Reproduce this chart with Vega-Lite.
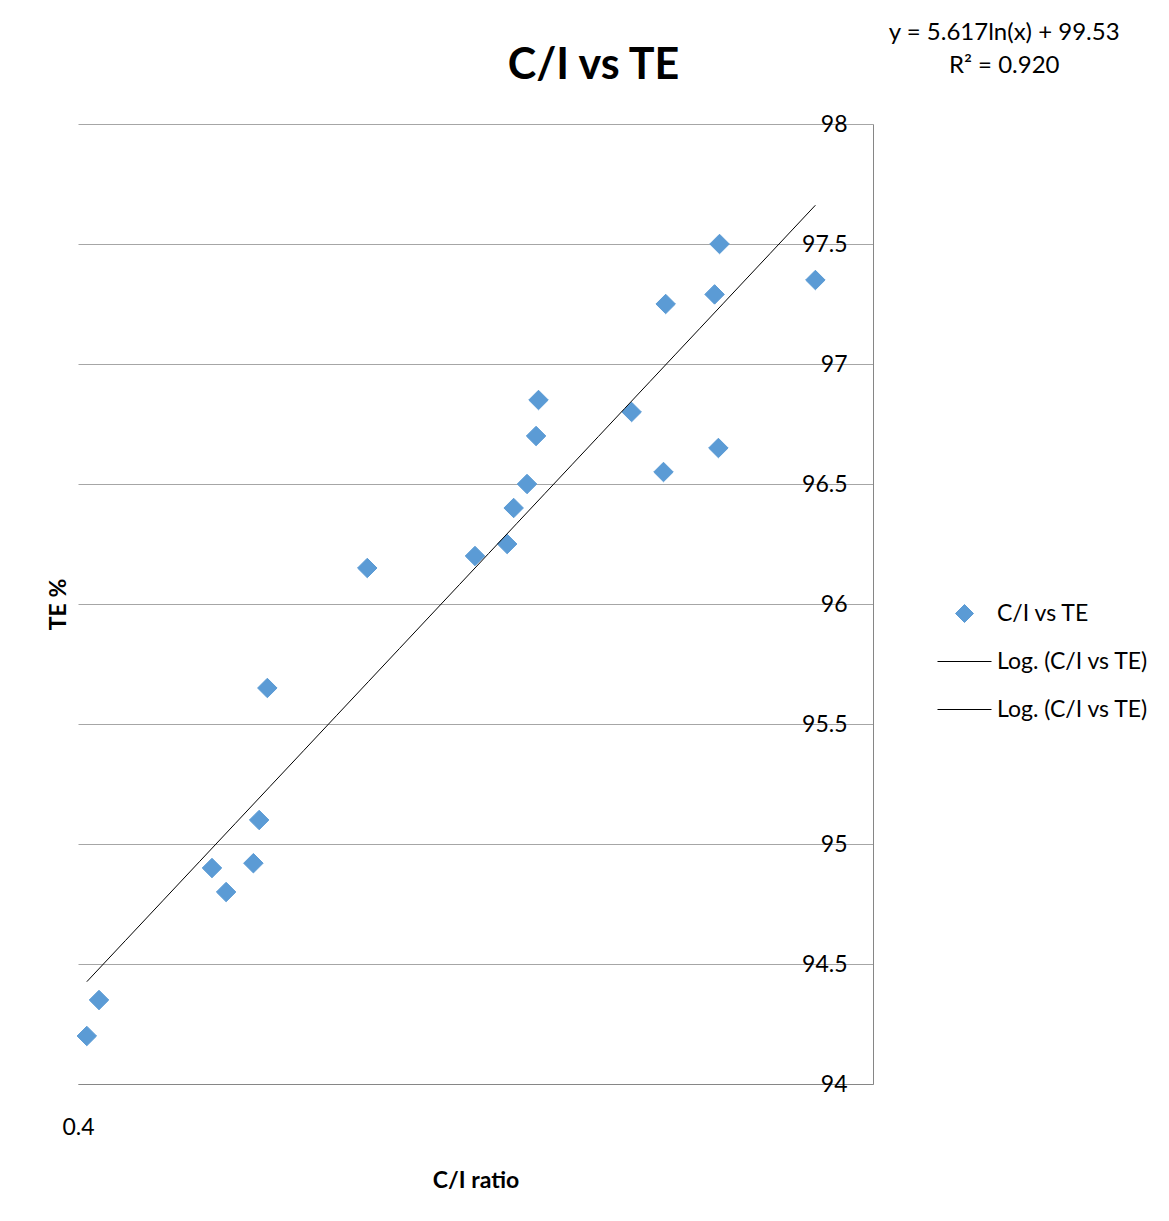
{
  "$schema": "https://vega.github.io/schema/vega-lite/v6.json",
  "width": 795,
  "height": 960,
  "autosize": {"type": "none"},
  "padding": {"left": 78, "top": 124, "right": 296, "bottom": 137},
  "background": "white",
  "config": {
    "font": "Lato",
    "view": {"stroke": null},
    "legend": {
      "orient": "none",
      "legendX": 875,
      "legendY": 478,
      "padding": 0,
      "labelFont": "Lato",
      "labelFontSize": 23,
      "labelColor": "black",
      "labelOffset": 21,
      "symbolSize": 324,
      "symbolStrokeWidth": 1,
      "rowPadding": 24,
      "labelLimit": 400
    }
  },
  "title": {
    "text": "C/I vs TE",
    "font": "Lato",
    "fontSize": 43,
    "fontWeight": "bold",
    "color": "black",
    "anchor": "middle",
    "frame": "group",
    "baseline": "alphabetic",
    "dx": 118,
    "offset": -101
  },
  "data": {
    "values": [
      {"ci": 0.4028, "te": 94.2, "series": "C/I vs TE"},
      {"ci": 0.4067, "te": 94.35, "series": "C/I vs TE"},
      {"ci": 0.4447, "te": 94.9, "series": "C/I vs TE"},
      {"ci": 0.4497, "te": 94.8, "series": "C/I vs TE"},
      {"ci": 0.4595, "te": 94.92, "series": "C/I vs TE"},
      {"ci": 0.4616, "te": 95.1, "series": "C/I vs TE"},
      {"ci": 0.4646, "te": 95.65, "series": "C/I vs TE"},
      {"ci": 0.5028, "te": 96.15, "series": "C/I vs TE"},
      {"ci": 0.5475, "te": 96.2, "series": "C/I vs TE"},
      {"ci": 0.5616, "te": 96.25, "series": "C/I vs TE"},
      {"ci": 0.5645, "te": 96.4, "series": "C/I vs TE"},
      {"ci": 0.5705, "te": 96.5, "series": "C/I vs TE"},
      {"ci": 0.5746, "te": 96.7, "series": "C/I vs TE"},
      {"ci": 0.5757, "te": 96.85, "series": "C/I vs TE"},
      {"ci": 0.6197, "te": 96.8, "series": "C/I vs TE"},
      {"ci": 0.6355, "te": 96.55, "series": "C/I vs TE"},
      {"ci": 0.6366, "te": 97.25, "series": "C/I vs TE"},
      {"ci": 0.6617, "te": 97.29, "series": "C/I vs TE"},
      {"ci": 0.6637, "te": 96.65, "series": "C/I vs TE"},
      {"ci": 0.6643, "te": 97.5, "series": "C/I vs TE"},
      {"ci": 0.7166, "te": 97.35, "series": "C/I vs TE"}
    ]
  },
  "resolve": {"axis": {"y": "independent"}},
  "layer": [
    {
      "mark": {"type": "point", "filled": true, "size": 380, "strokeWidth": 1, "opacity": 1},
      "encoding": {
        "x": {
          "field": "ci",
          "type": "quantitative",
          "title": "C/I ratio",
          "scale": {"type": "log", "domain": [0.4, 0.75], "nice": false},
          "axis": {
            "values": [0.4],
            "format": ".1f",
            "ticks": false,
            "grid": false,
            "domain": true,
            "domainColor": "#868686",
            "domainWidth": 1,
            "labelFont": "Lato",
            "labelFontSize": 23,
            "labelColor": "black",
            "labelPadding": 32,
            "labelFlush": false,
            "title": "C/I ratio",
            "titleFont": "Lato",
            "titleFontSize": 23,
            "titleFontWeight": "bold",
            "titleColor": "black",
            "titlePadding": 30
          }
        },
        "y": {
          "field": "te",
          "type": "quantitative",
          "scale": {"domain": [94, 98], "nice": false, "zero": false},
          "axis": {
            "orient": "right",
            "values": [94, 94.5, 95, 95.5, 96, 96.5, 97, 97.5, 98],
            "labelExpr": "datum.value + ''",
            "ticks": false,
            "tickSize": 0,
            "labelAlign": "right",
            "labelBaseline": "middle",
            "labelPadding": -26,
            "labelFont": "Lato",
            "labelFontSize": 23,
            "labelColor": "black",
            "labelOverlap": false,
            "grid": true,
            "gridColor": "#A6A6A6",
            "gridWidth": 1,
            "domainColor": "#868686",
            "domainWidth": 1,
            "title": null
          }
        },
        "fill": {
          "field": "series",
          "type": "nominal",
          "scale": {"domain": ["C/I vs TE", "Log. (C/I vs TE)", "Log. (C/I vs TE) "], "range": ["#5B9BD5", "#000000", "#000000"]},
          "legend": {"title": null}
        },
        "stroke": {
          "field": "series",
          "type": "nominal",
          "scale": {"domain": ["C/I vs TE", "Log. (C/I vs TE)", "Log. (C/I vs TE) "], "range": ["#5B9BD5", "#000000", "#000000"]},
          "legend": {"title": null}
        },
        "shape": {
          "field": "series",
          "type": "nominal",
          "scale": {"domain": ["C/I vs TE", "Log. (C/I vs TE)", "Log. (C/I vs TE) "], "range": ["diamond", "M-3,0L3,0", "M-3,0L3,0"]},
          "legend": {"title": null}
        }
      }
    },
    {
      "transform": [{"regression": "te", "on": "ci", "method": "log"}],
      "mark": {"type": "line", "color": "black", "strokeWidth": 1},
      "encoding": {
        "x": {"field": "ci", "type": "quantitative", "title": "C/I ratio"},
        "y": {
          "field": "te",
          "type": "quantitative",
          "axis": {
            "orient": "left",
            "title": "TE %",
            "labels": false,
            "ticks": false,
            "domain": false,
            "grid": false,
            "titleFont": "Lato",
            "titleFontSize": 23,
            "titleFontWeight": "bold",
            "titleColor": "black",
            "titlePadding": 8
          }
        }
      }
    },
    {
      "data": {"values": [{"label": "y = 5.617ln(x) + 99.53\nR² = 0.920"}]},
      "mark": {"type": "text", "lineBreak": "\n", "font": "Lato", "fontSize": 24, "align": "center", "baseline": "middle", "lineHeight": 33, "color": "black"},
      "encoding": {
        "x": {"datum": 0.832, "type": "quantitative", "title": "C/I ratio"},
        "y": {"datum": 98.379, "type": "quantitative", "axis": null},
        "text": {"field": "label"}
      }
    }
  ]
}
